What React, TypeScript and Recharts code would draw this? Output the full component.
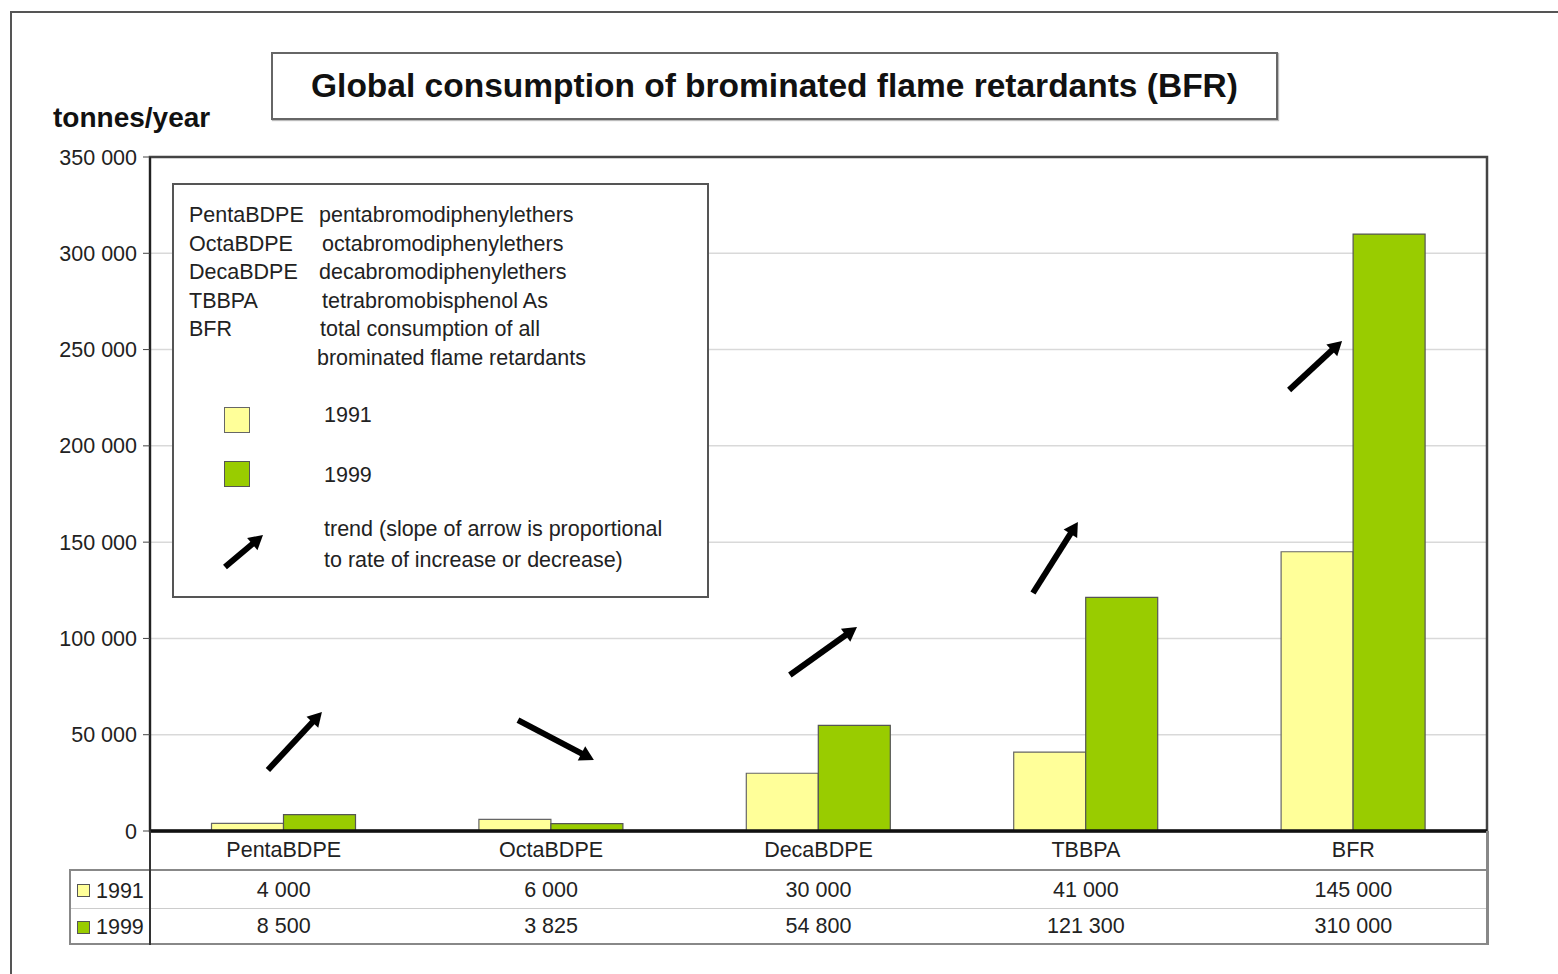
import React from 'react';
import { BarChart, Bar, XAxis, YAxis, CartesianGrid, ReferenceLine, ReferenceArea } from 'recharts';

const categories = ['PentaBDPE', 'OctaBDPE', 'DecaBDPE', 'TBBPA', 'BFR'];
const values1991 = [4000, 6000, 30000, 41000, 145000];
const values1999 = [8500, 3825, 54800, 121300, 310000];
const yTicks = [0, 50000, 100000, 150000, 200000, 250000, 300000, 350000];
// trend arrows in data space: x in category units (0..5), y in tonnes/year
const trendFromX = [0.441, 1.376, 2.393, 3.302, 4.26];
const trendFromY = [31700, 57600, 81000, 123600, 229000];
const trendToX = [0.643, 1.66, 2.644, 3.47, 4.458];
const trendToY = [61800, 36900, 105900, 160500, 254500];
const abbreviations = ['PentaBDPE', 'OctaBDPE', 'DecaBDPE', 'TBBPA', 'BFR'];
const fullNames = ['pentabromodiphenylethers', 'octabromodiphenylethers', 'decabromodiphenylethers', 'tetrabromobisphenol As', 'total consumption of all'];

const COLOR_1991 = '#FFFF99';
const COLOR_1999 = '#99CC00';
const FONT = '"Liberation Sans", Arial, sans-serif';

const data = categories.map((c, i) => ({ name: c, pos: i + 0.5, y1991: values1991[i], y1999: values1999[i] }));

const fmt = (v: number) => String(v).replace(/\B(?=(\d{3})+(?!\d))/g, ' ');

const Arrow = (props: any) => {
  const { x1, y1, x2, y2 } = props;
  if ([x1, y1, x2, y2].some((v) => typeof v !== 'number' || isNaN(v))) return null;
  const dx = x2 - x1;
  const dy = y2 - y1;
  const len = Math.sqrt(dx * dx + dy * dy);
  const ux = dx / len;
  const uy = dy / len;
  const headLen = 14;
  const headW = 8;
  const bx = x2 - ux * headLen;
  const by = y2 - uy * headLen;
  const px = -uy;
  const py = ux;
  const pts = `${x2},${y2} ${bx + px * headW},${by + py * headW} ${bx - px * headW},${by - py * headW}`;
  return (
    <g>
      <line x1={x1} y1={y1} x2={bx + ux * 2} y2={by + uy * 2} stroke="#000" strokeWidth={6} />
      <polygon points={pts} fill="#000" />
    </g>
  );
};

const abs = (left: number, top: number, extra: React.CSSProperties = {}): React.CSSProperties => ({
  position: 'absolute',
  left,
  top,
  ...extra,
});

export default function App() {
  const colW = 1337 / 5;
  return (
    <div style={{ position: 'absolute', left: 0, top: 0, width: 1558, height: 974, overflow: 'hidden', background: '#fff', fontFamily: FONT }}>
      {/* outer frame */}
      <div style={abs(10, 11, { width: 1700, height: 1200, border: '2.5px solid #555' })} />
      {/* title box */}
      <div
        style={abs(271, 52, {
          width: 1003,
          height: 64,
          border: '2px solid #666',
          display: 'flex',
          alignItems: 'center',
          justifyContent: 'center',
          fontWeight: 'bold',
          fontSize: 33.5,
          color: '#111',
          boxShadow: '1px 1px 1px #bbb',
        })}
      >
        Global consumption of brominated flame retardants (BFR)
      </div>
      <div style={abs(53, 101, { fontWeight: 'bold', fontSize: 28, color: '#111', lineHeight: '34px' })}>tonnes/year</div>

      <div style={abs(0, 0)}>
        <BarChart
          width={1558}
          height={974}
          data={data}
          margin={{ top: 157, right: 71, left: 70, bottom: 104 }}
          barCategoryGap="23%"
          barGap={0}
        >
          <CartesianGrid vertical={false} stroke="#d9d9d9" strokeWidth={1.5} />
          <XAxis
            dataKey="name"
            height={39}
            tickLine={false}
            tickSize={0}
            tickMargin={11}
            axisLine={false}
            tick={{ fontSize: 21.5, fill: '#222', fontFamily: FONT }}
            interval={0}
          />
          <XAxis xAxisId="num" dataKey="pos" type="number" domain={[0, 5]} allowDataOverflow hide />
          <YAxis
            width={80}
            domain={[0, 350000]}
            ticks={yTicks}
            tickFormatter={fmt}
            tickSize={7}
            tickMargin={6}
            axisLine={{ stroke: '#222', strokeWidth: 2 }}
            tickLine={{ stroke: '#444', strokeWidth: 1 }}
            tick={{ fontSize: 21.5, fill: '#222', fontFamily: FONT }}
            interval={0}
          />
          <ReferenceArea
            xAxisId="num"
            x1={0}
            x2={5}
            y1={0}
            y2={350000}
            fill="none"
            fillOpacity={0}
            stroke="#444"
            strokeWidth={2.5}
            ifOverflow="visible"
          />
          <Bar dataKey="y1991" fill={COLOR_1991} stroke="#666" strokeWidth={1.2} isAnimationActive={false} />
          <Bar dataKey="y1999" fill={COLOR_1999} stroke="#555" strokeWidth={1.2} isAnimationActive={false} />
          <ReferenceLine y={0} stroke="#111" strokeWidth={3.5} ifOverflow="visible" />
          {trendFromX.map((fx, i) => (
            <ReferenceLine
              key={i}
              xAxisId="num"
              segment={[
                { x: fx, y: trendFromY[i] },
                { x: trendToX[i], y: trendToY[i] },
              ]}
              ifOverflow="visible"
              shape={Arrow}
            />
          ))}
        </BarChart>
      </div>

      {/* legend / key box */}
      <div style={abs(172, 183, { width: 533, height: 411, border: '2px solid #555', background: '#fff', fontSize: 21.5, color: '#222' })}>
        {abbreviations.map((a, i) => (
          <div key={a} style={abs(15, 17 + i * 28.6, { lineHeight: '26px', whiteSpace: 'nowrap' })}>
            {a}
          </div>
        ))}
        {fullNames.map((n, i) => (
          <div key={n} style={abs([145, 148, 145, 148, 146][i], 17 + i * 28.6, { lineHeight: '26px', whiteSpace: 'nowrap' })}>
            {n}
          </div>
        ))}
        <div style={abs(143, 160, { lineHeight: '26px', whiteSpace: 'nowrap' })}>brominated flame retardants</div>
        <div style={abs(50, 222, { width: 24, height: 24, background: COLOR_1991, border: '1.5px solid #666' })} />
        <div style={abs(150, 217, { lineHeight: '26px' })}>1991</div>
        <div style={abs(50, 276, { width: 24, height: 24, background: COLOR_1999, border: '1.5px solid #555' })} />
        <div style={abs(150, 277, { lineHeight: '26px' })}>1999</div>
        <svg style={abs(45, 340)} width={50} height={50}>
          <Arrow x1={6} y1={42} x2={44} y2={10} />
        </svg>
        <div style={abs(150, 331, { lineHeight: '26px', whiteSpace: 'nowrap' })}>trend (slope of arrow is proportional</div>
        <div style={abs(150, 362, { lineHeight: '26px', whiteSpace: 'nowrap' })}>to rate of increase or decrease)</div>
      </div>

      {/* data table below the axis */}
      <div style={abs(70, 869, { width: 1417, height: 2, background: '#888' })} />
      <div style={abs(70, 908, { width: 1417, height: 1, background: '#ccc' })} />
      <div style={abs(70, 943, { width: 1419, height: 2, background: '#888' })} />
      <div style={abs(69, 869, { width: 2, height: 76, background: '#888' })} />
      <div style={abs(149, 831, { width: 2, height: 114, background: '#333' })} />
      <div style={abs(1486, 831, { width: 2.5, height: 114, background: '#888' })} />

      <div style={abs(77, 884, { width: 11, height: 11, background: COLOR_1991, border: '1px solid #555' })} />
      <div style={abs(96, 878, { fontSize: 21.5, color: '#222', lineHeight: '26px' })}>1991</div>
      <div style={abs(77, 921, { width: 11, height: 11, background: COLOR_1999, border: '1px solid #555' })} />
      <div style={abs(96, 914, { fontSize: 21.5, color: '#222', lineHeight: '26px' })}>1999</div>

      {categories.map((c, i) => (
        <React.Fragment key={c}>
          <div style={abs(150 + i * colW, 877, { width: colW, textAlign: 'center', fontSize: 21.5, color: '#222', lineHeight: '26px' })}>
            {fmt(values1991[i])}
          </div>
          <div style={abs(150 + i * colW, 913, { width: colW, textAlign: 'center', fontSize: 21.5, color: '#222', lineHeight: '26px' })}>
            {fmt(values1999[i])}
          </div>
        </React.Fragment>
      ))}
    </div>
  );
}
